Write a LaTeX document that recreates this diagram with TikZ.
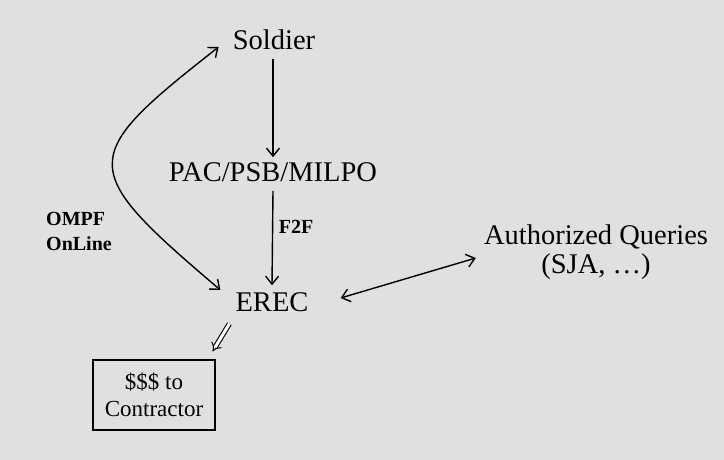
\documentclass[tikz,border=0pt]{standalone}
\usepackage{fontspec}
\setmainfont{Liberation Serif}
\usetikzlibrary{arrows.meta}
\begin{document}
\begin{tikzpicture}[x=1pt,y=-1pt,
  big/.style={font=\fontsize{28.5}{30}\selectfont, inner sep=3pt},
  small/.style={font=\bfseries\fontsize{20}{25}\selectfont, inner sep=2pt},
  conn/.style={line width=1.4pt, draw=black},
  tip/.style={-{Straight Barb[length=8pt,width=13pt,line width=1.4pt]}},
  btip/.style={{Straight Barb[length=8pt,width=13pt,line width=1.4pt]}-{Straight Barb[length=8pt,width=13pt,line width=1.4pt]}},
  boxnode/.style={draw, line width=1.2pt, font=\fontsize{23}{27}\selectfont, align=center, minimum width=122pt, minimum height=70pt, inner sep=2pt}
]
\fill[black!12] (0,0) rectangle (724,460);
\useasboundingbox (0,0) rectangle (724,460);

\node[big] (soldier) at (274,40) {Soldier};
\node[big] (pac) at (273,172) {PAC/PSB/MILPO};
\node[big] (erec) at (272,302) {EREC};
\node[big, align=center, font=\fontsize{28.5}{29}\selectfont] (aq) at (596,252) {Authorized Queries\\(SJA, \ldots)};
\node[boxnode] (box) at (154,395) {\$\$\$ to\\Contractor};
\node[small] (f2f) at (296,227) {F2F};
\node[small, align=left] (ompf) at (79,231) {OMPF\\OnLine};

\draw[conn, tip] ([yshift=-6pt]soldier.south -| pac.north) -- ([yshift=2pt]pac.north);
\draw[conn, tip] ([yshift=-6pt]pac.south) -- ([yshift=4pt]erec.north);
\draw[conn, btip] ([shift={(-11,7)}]soldier.west) .. controls (77,158) and (77,168) .. ([shift={(-12,-12)}]erec.west);
\draw[conn, btip] ([shift={(29,-4)}]erec.east) -- ([shift={(-5,6)}]aq.west);
\draw[line width=1.1pt, double, double distance=3pt, -{Implies}] ([shift={(-3,9)}]erec.south west) -- ([shift={(-3,-8)}]box.north east);
\end{tikzpicture}
\end{document}
